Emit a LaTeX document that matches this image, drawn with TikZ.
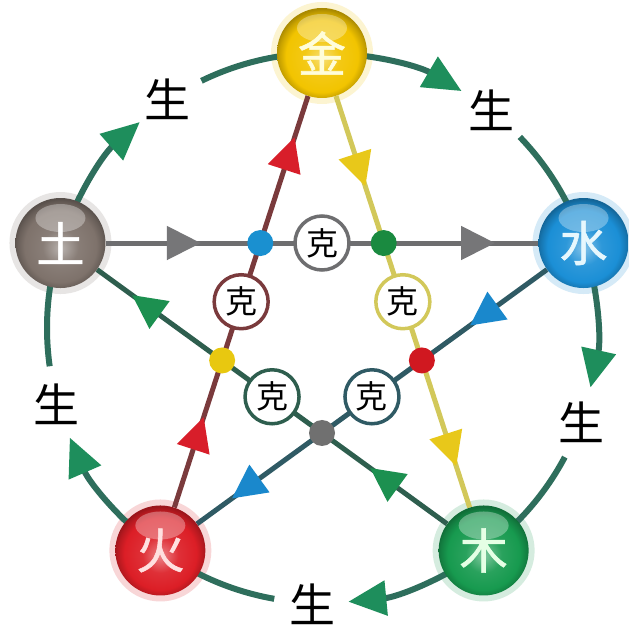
\documentclass[tikz,border=0pt]{standalone}
\usepackage{fontspec}
\newfontfamily\cjk{Noto Sans CJK SC}
\newfontfamily\cjkb[FakeBold=1.2]{Noto Sans CJK SC}
\usetikzlibrary{arrows.meta,decorations.markings,calc}
\pgfdeclarelayer{back}
\pgfdeclarelayer{bg}
\pgfsetlayers{back,bg,main}

\definecolor{arcgreen}{HTML}{2E6E5C}
\definecolor{arrgreen}{HTML}{1E8E5C}
\definecolor{graylin}{HTML}{6E6E70}
\definecolor{grayarr}{HTML}{767678}
\definecolor{redlin}{HTML}{7A3A3C}
\definecolor{redarr}{HTML}{D81E2A}
\definecolor{yellin}{HTML}{D2C85A}
\definecolor{yelarr}{HTML}{E8C81A}
\definecolor{bluelin}{HTML}{2F5A64}
\definecolor{bluearr}{HTML}{1A88CC}
\definecolor{grnlin}{HTML}{2E5E4E}
\definecolor{grnarr}{HTML}{1C9050}
\definecolor{cjin}{HTML}{F2C400}
\definecolor{ctu}{HTML}{7E726B}
\definecolor{cshui}{HTML}{1B8FD6}
\definecolor{chuo}{HTML}{DC1E26}
\definecolor{cmu}{HTML}{179A4F}
\definecolor{dblue}{HTML}{1A90D0}
\definecolor{dgreen}{HTML}{1A8A40}
\definecolor{dred}{HTML}{D01820}
\definecolor{dgray}{HTML}{707070}
\definecolor{dyellow}{HTML}{E8C810}

\newcommand\mkballshade[2]{%
  \pgfdeclareradialshading{#1}{\pgfpoint{0bp}{-3bp}}{%
    color(0bp)=(#2!55!white); color(10bp)=(#2!92!white); color(20bp)=(#2);
    color(24bp)=(#2!82!black); color(26bp)=(#2!70!black); color(50bp)=(#2!70!black)}}
\mkballshade{shjin}{cjin}
\mkballshade{shtu}{ctu}
\mkballshade{shshui}{cshui}
\mkballshade{shhuo}{chuo}
\mkballshade{shmu}{cmu}

\begin{document}
\begin{tikzpicture}[x=1pt,y=1pt,
  ballnode/.style={circle, minimum size=90pt, inner sep=0pt, shading=#1,
    font=\cjkb\fontsize{48}{48}\selectfont,
    path picture={\fill[white, opacity=.32]
      ($(path picture bounding box.center)+(0,25)$) ellipse (25 and 14);}},
  kenode/.style={circle, draw=#1, line width=3.5pt, fill=white, minimum size=54pt,
    inner sep=0pt, font=\cjk\fontsize{32}{32}\selectfont},
  dotnode/.style={circle, fill=#1, minimum size=26pt, inner sep=0pt},
  sheng/.style={inner sep=0pt, font=\cjk\fontsize{46}{46}\selectfont},
  outerarc/.style={line width=6pt, draw=arcgreen},
  inl/.style 2 args={line width=5pt, draw=#1, postaction={decorate},
    decoration={markings,
      mark=at position 0.22 with {\arrow[color=#2]{Triangle[length=34pt,width=33pt]}},
      mark=at position 0.90 with {\arrow[color=#2]{Triangle[length=34pt,width=33pt]}}}}
]
\useasboundingbox (0,0) rectangle (629,629);
\begin{pgfonlayer}{back}
  \fill[white] (0,0) rectangle (629,629);
\end{pgfonlayer}
\coordinate (O) at (322,301);

% element balls
\node[ballnode=shjin, text=white!85!yellow]  (jin)  at ($(O)+(90:275)$)   {金};
\node[ballnode=shshui, text=cyan!10!white]   (shui) at ($(O)+(18:275)$)   {水};
\node[ballnode=shmu, text=green!10!white]    (mu)   at ($(O)+(-54:275)$)  {木};
\node[ballnode=shhuo, text=red!12!white]     (huo)  at ($(O)+(-126:275)$) {火};
\node[ballnode=shtu, text=white]             (tu)   at ($(O)+(162:275)$)  {土};

% 克 circles
\node[kenode=graylin] (k1) at ($(O)+(90:85)$)   {克};
\node[kenode=yellin]  (k2) at ($(O)+(18:85)$)   {克};
\node[kenode=bluelin] (k3) at ($(O)+(-54:85)$)  {克};
\node[kenode=grnlin]  (k4) at ($(O)+(-126:85)$) {克};
\node[kenode=redlin]  (k5) at ($(O)+(162:85)$)  {克};

% intersection dots
\node[dotnode=dblue]   (d1) at ($(O)+(126:105)$)  {};
\node[dotnode=dgreen]  (d2) at ($(O)+(54:105)$)   {};
\node[dotnode=dred]    (d3) at ($(O)+(-18:105)$)  {};
\node[dotnode=dgray]   (d4) at ($(O)+(-90:105)$)  {};
\node[dotnode=dyellow] (d5) at ($(O)+(-162:105)$) {};

% 生 labels
\node[sheng] (s1) at ($(O)+(52:276)$)   {生};
\node[sheng] (s2) at ($(O)+(-20:276)$)  {生};
\node[sheng] (s3) at ($(O)+(-92:276)$)  {生};
\node[sheng] (s4) at ($(O)+(-164:276)$) {生};
\node[sheng] (s5) at ($(O)+(124:276)$)  {生};

\begin{pgfonlayer}{bg}
  % halos
  \foreach \b/\c in {jin/cjin,shui/cshui,mu/cmu,huo/chuo,tu/ctu}
    \fill[\c, opacity=.18] (\b) circle (51);
  % outer cycle
  \foreach \t in {90,18,-54,-126,162} {
    \draw[outerarc, -{Triangle[length=38pt,width=34pt,color=arrgreen]}]
      ($(O)+(\t:275)$) arc[start angle=\t, end angle=\t-30.5, radius=275];
    \draw[outerarc]
      ($(O)+(\t-46:275)$) arc[start angle=\t-46, end angle=\t-72, radius=275];
  }
  % inner star
  \draw[inl={graylin}{grayarr}] (tu) -- (shui);
  \draw[inl={redlin}{redarr}] (huo) -- (jin);
  \draw[inl={yellin}{yelarr}] (jin) -- (mu);
  \draw[inl={bluelin}{bluearr}] (shui) -- (huo);
  \draw[inl={grnlin}{grnarr}] (mu) -- (tu);
\end{pgfonlayer}
\end{tikzpicture}
\end{document}
